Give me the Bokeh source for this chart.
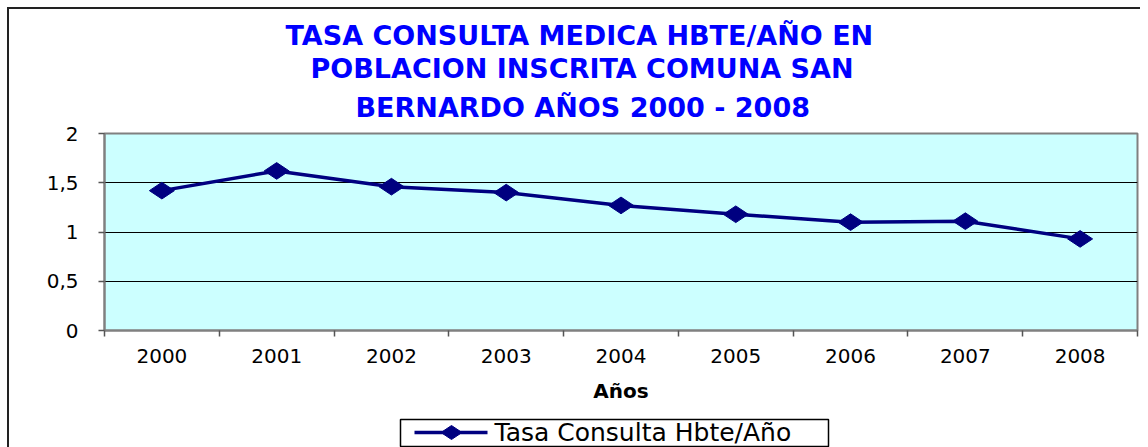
from bokeh.plotting import figure
from bokeh.models import FixedTicker, ColumnDataSource, Title
from bokeh.layouts import column
from bokeh.core.properties import value
from bokeh.embed import file_html
from bokeh.resources import INLINE
import math

years = ["2000", "2001", "2002", "2003", "2004", "2005", "2006", "2007", "2008"]
tasa = [1.42, 1.62, 1.46, 1.40, 1.27, 1.18, 1.10, 1.11, 0.93]
y_ticks = [0, 0.5, 1, 1.5, 2]
y_labels = ["0", "0,5", "1", "1,5", "2"]
title_lines = ["TASA CONSULTA MEDICA HBTE/AÑO EN",
               "POBLACION INSCRITA COMUNA SAN",
               "BERNARDO AÑOS 2000 - 2008"]
title_offsets = [181, 206, 251]   # left offsets that centre each line at the reference position
title_standoffs = [0, 0, 17]
title_valign = ["bottom", "bottom", "top"]
series_name = "Tasa Consulta Hbte/Año"

FONT = "DejaVu Sans"
NAVY = "#000080"
BORDER = "#222222"
xpos = [i + 0.5 for i in range(len(years))]
src = ColumnDataSource(dict(x=xpos, y=tasa, year=years))

# ---------------- main chart ----------------
p = figure(frame_width=1033, frame_height=197, x_range=(0, len(years)), y_range=(0, 2),
           output_backend="svg", toolbar_location=None,
           min_border_left=104, min_border_right=3, min_border_top=133, min_border_bottom=86)
p.title = None

# outer chart-area border (top and left edges, like the reference)
p.border_fill_alpha = 0
p.styles = {
    "background-color": "white",
    "background-image": f"linear-gradient({BORDER}, {BORDER}), linear-gradient({BORDER}, {BORDER})",
    "background-size": "2px 100%, 100% 2px",
    "background-position": "7px 7px, 7px 7px",
    "background-repeat": "no-repeat",
}

p.background_fill_color = "#CCFFFF"
p.outline_line_color = "#808080"
p.outline_line_width = 2

# title: three lines (later added -> higher)
for t, off, so, va in reversed(list(zip(title_lines, title_offsets, title_standoffs, title_valign))):
    p.add_layout(Title(text=t, text_font=FONT, text_font_size="27px", text_font_style="bold",
                       text_color="#0000FF", align="left", offset=off, standoff=so,
                       vertical_align=va), "above")

# x axis (ticks between categories, labels at centres)
p.xaxis.ticker = FixedTicker(ticks=xpos, minor_ticks=list(range(len(years) + 1)))
p.xaxis.major_label_overrides = {x: y for x, y in zip(xpos, years)}
p.xaxis.major_tick_out = 0
p.xaxis.major_tick_in = 0
p.xaxis.minor_tick_out = 6
p.xaxis.minor_tick_in = 0
p.xaxis.minor_tick_line_color = "#555555"
p.xaxis.minor_tick_line_width = 1.5
p.xaxis.axis_line_color = "#808080"
p.xaxis.axis_line_width = 2
p.xaxis.major_label_text_font = FONT
p.xaxis.major_label_text_font_size = "20px"
p.xaxis.major_label_text_color = "black"
p.xaxis.major_label_standoff = 12
p.xaxis.axis_label = "Años"
p.xaxis.axis_label_text_font = FONT
p.xaxis.axis_label_text_font_size = "20px"
p.xaxis.axis_label_text_font_style = "bold"
p.xaxis.axis_label_text_color = "black"
p.xaxis.axis_label_standoff = 13

# y axis
p.yaxis.ticker = FixedTicker(ticks=y_ticks)
p.yaxis.major_label_overrides = {t: l for t, l in zip(y_ticks, y_labels)}
p.yaxis.major_tick_out = 6
p.yaxis.major_tick_in = 0
p.yaxis.minor_tick_out = 0
p.yaxis.minor_tick_in = 0
p.yaxis.major_tick_line_color = "#555555"
p.yaxis.major_tick_line_width = 1.5
p.yaxis.axis_line_color = "#808080"
p.yaxis.axis_line_width = 2
p.yaxis.major_label_text_font = FONT
p.yaxis.major_label_text_font_size = "20px"
p.yaxis.major_label_text_color = "black"
p.yaxis.major_label_standoff = 20

p.xgrid.grid_line_color = None
p.ygrid.ticker = FixedTicker(ticks=[0.5, 1, 1.5])
p.ygrid.grid_line_color = "black"
p.ygrid.grid_line_width = 1

p.line("x", "y", source=src, line_color=NAVY, line_width=3.5)
p.scatter("x", "y", source=src, marker="diamond", size=25, angle=math.pi / 2,
          fill_color=NAVY, line_color=NAVY)

# ---------------- legend strip (frame aligned with the chart frame; pixel units) ----------------
LH = 31
lg = figure(width=1140, height=LH, x_range=(104, 1137), y_range=(0, LH),
            x_axis_type=None, y_axis_type=None, output_backend="svg", toolbar_location=None,
            min_border=0, min_border_left=0, min_border_right=0,
            min_border_top=0, min_border_bottom=0)
lg.title = None
lg.outline_line_color = None
lg.grid.visible = False
lg.border_fill_alpha = 0
lg.background_fill_alpha = 0
lg.styles = {
    "background-color": "white",
    "background-image": f"linear-gradient({BORDER}, {BORDER})",
    "background-size": "2px 100%",
    "background-position": "7px 0px",
    "background-repeat": "no-repeat",
}
lg.quad(left=[400], right=[828], bottom=[1], top=[28], fill_color="white",
        line_color="black", line_width=1.5)
lg.segment(x0=[414], y0=[15], x1=[487], y1=[15], line_color=NAVY, line_width=3.5)
lg.scatter(x=[451], y=[15], marker="diamond", size=21, angle=math.pi / 2,
           fill_color=NAVY, line_color=NAVY)
lg.text(x=[494], y=[15], text=[series_name], text_font=value(FONT), text_font_size="25px",
        text_baseline="middle", text_align="left", text_color="black")

layout = column(p, lg, spacing=0)
open("out.html", "w").write(file_html(layout, INLINE))
